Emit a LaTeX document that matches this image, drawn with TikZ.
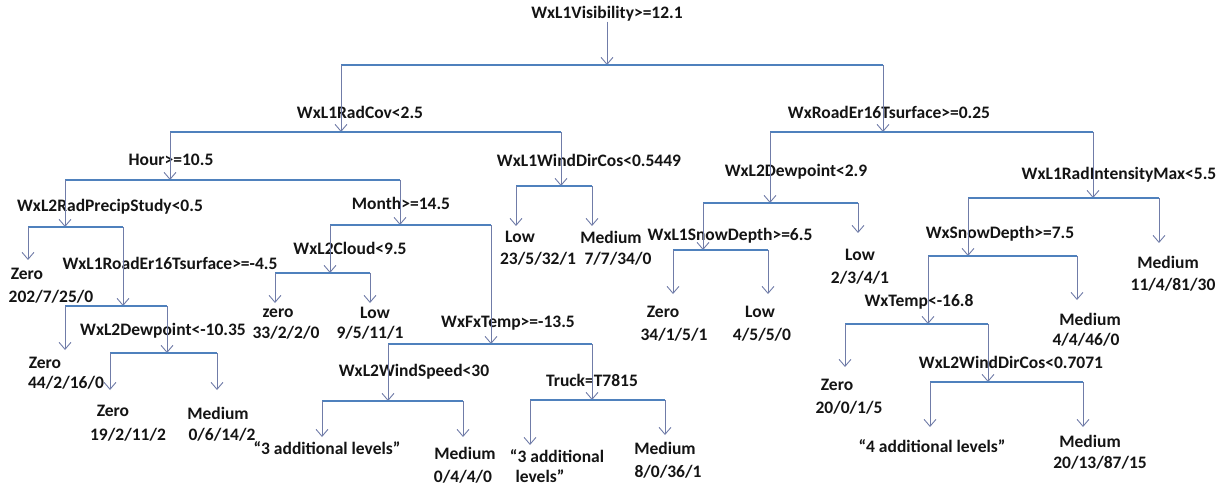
\documentclass[tikz,border=0pt]{standalone}
\usepackage{fontspec}
\setmainfont{Carlito}
\usetikzlibrary{arrows.meta}
\definecolor{barblue}{RGB}{79,129,189}
\definecolor{arrgray}{RGB}{112,124,168}
\definecolor{txt}{RGB}{20,20,20}
\begin{document}
\begin{tikzpicture}[x=1pt,y=-1pt,
  lbl/.style={font=\fontsize{17.5}{20}\selectfont\bfseries, inner sep=0pt, text=txt},
  bar/.style={draw=barblue, line width=1.1pt},
  arr/.style={draw=arrgray, line width=0.9pt, -{Straight Barb[length=7pt,width=12pt]}}]
\useasboundingbox[fill=white] (0,0) rectangle (1231,486);

% ---------- internal node labels ----------
\node[lbl] (r) at (607,14) {WxL1Visibility>=12.1};
\node[lbl] (a) at (360,112) {WxL1RadCov<2.5};
\node[lbl] (b) at (889,112) {WxRoadEr16Tsurface>=0.25};
\node[lbl] (c) at (171,160) {Hour>=10.5};
\node[lbl] (d) at (589,160) {WxL1WindDirCos<0.5449};
\node[lbl] (e) at (796,172) {WxL2Dewpoint<2.9};
\node[lbl] (f) at (1119,175) {WxL1RadIntensityMax<5.5};
\node[lbl] (g) at (110,207) {WxL2RadPrecipStudy<0.5};
\node[lbl] (h) at (401,203) {Month>=14.5};
\node[lbl] (i) at (730,236) {WxL1SnowDepth>=6.5};
\node[lbl] (j) at (1000,234) {WxSnowDepth>=7.5};
\node[lbl] (k) at (170,263) {WxL1RoadEr16Tsurface>=-4.5};
\node[lbl] (l) at (350,248) {WxL2Cloud<9.5};
\node[lbl] (m) at (919,302) {WxTemp<-16.8};
\node[lbl] (n) at (508,323) {WxFxTemp>=-13.5};
\node[lbl] (o) at (163,331) {WxL2Dewpoint<-10.35};
\node[lbl] (p) at (1011,362) {WxL2WindDirCos<0.7071};
\node[lbl] (q) at (414,372) {WxL2WindSpeed<30};
\node[lbl] (s) at (592,380) {Truck=T7815};

% ---------- junctions (where incoming arrow meets the bar) ----------
\coordinate (rj) at (607,65);
\coordinate (aj) at (341,132);
\coordinate (bj) at (883,132);
\coordinate (cj) at (170,180);
\coordinate (dj) at (561,186);
\coordinate (ej) at (770,203);
\coordinate (fj) at (1093,198);
\coordinate (gj) at (65,227);
\coordinate (hj) at (400,225);
\coordinate (ij) at (703,250);
\coordinate (jj) at (968,256);
\coordinate (kj) at (123,306);
\coordinate (lj) at (330,273);
\coordinate (mj) at (928,324);
\coordinate (nj) at (491,344);
\coordinate (oj) at (167,353);
\coordinate (pj) at (988,382);
\coordinate (qj) at (388,401);
\coordinate (sj) at (592,400);

% ---------- leaf arrow tips ----------
\coordinate (dL) at (516,226);
\coordinate (dR) at (592,226);
\coordinate (eR) at (858,233);
\coordinate (fR) at (1159,243);
\coordinate (gL) at (28,260);
\coordinate (iL) at (673,294);
\coordinate (iR) at (768,294);
\coordinate (jR) at (1077,300);
\coordinate (kL) at (65,350);
\coordinate (lL) at (275,303);
\coordinate (lR) at (370,303);
\coordinate (mL) at (845,367);
\coordinate (oL) at (110,390);
\coordinate (oR) at (217,390);
\coordinate (pL) at (930,427);
\coordinate (pR) at (1083,427);
\coordinate (qL) at (322,437);
\coordinate (qR) at (463,437);
\coordinate (sL) at (530,445);
\coordinate (sR) at (665,435);

% ---------- leaf labels ----------
\node[lbl] (dLa) at (520,237) {Low};
\node[lbl] (dLb) at (538,259) {23/5/32/1};
\node[lbl] (dRa) at (611,237) {Medium};
\node[lbl] (dRb) at (618,259) {7/7/34/0};
\node[lbl] (eRa) at (860,255) {Low};
\node[lbl] (eRb) at (860,278) {2/3/4/1};
\node[lbl] (fRa) at (1168,262) {Medium};
\node[lbl] (fRb) at (1173,285) {11/4/81/30};
\node[lbl] (gLa) at (27,274) {Zero};
\node[lbl] (gLb) at (51,297) {202/7/25/0};
\node[lbl] (iLa) at (663,312) {Zero};
\node[lbl] (iLb) at (674,335) {34/1/5/1};
\node[lbl] (iRa) at (760,312) {Low};
\node[lbl] (iRb) at (762,335) {4/5/5/0};
\node[lbl] (jRa) at (1090,319) {Medium};
\node[lbl] (jRb) at (1086,340) {4/4/46/0};
\node[lbl] (kLa) at (45,363) {Zero};
\node[lbl] (kLb) at (66,383) {44/2/16/0};
\node[lbl] (lLa) at (278,313) {zero};
\node[lbl] (lLb) at (286,333) {33/2/2/0};
\node[lbl] (lRa) at (375,313) {Low};
\node[lbl] (lRb) at (370,333) {9/5/11/1};
\node[lbl] (mLa) at (837,385) {Zero};
\node[lbl] (mLb) at (849,408) {20/0/1/5};
\node[lbl] (oLa) at (113,411) {Zero};
\node[lbl] (oLb) at (128,435) {19/2/11/2};
\node[lbl] (oRa) at (218,413) {Medium};
\node[lbl] (oRb) at (222,435) {0/6/14/2};
\node[lbl] (pLa) at (932,446) {“4 additional levels”};
\node[lbl] (pRa) at (1090,441) {Medium};
\node[lbl] (pRb) at (1100,463) {20/13/87/15};
\node[lbl] (qLa) at (327,448) {“3 additional levels”};
\node[lbl] (qRa) at (465,453) {Medium};
\node[lbl] (qRb) at (463,477) {0/4/4/0};
\node[lbl] (sLa) at (557,456) {“3 additional};
\node[lbl] (sLb) at (540,476) {levels”};
\node[lbl] (sRa) at (665,448) {Medium};
\node[lbl] (sRb) at (668,472) {8/0/36/1};

% ---------- root arrow ----------
\draw[arr] (r.south) -- (rj);

% ---------- bars and arrows: parent bar -> children ----------
\foreach \P/\A/\B in {rj/aj/bj, aj/cj/dj, bj/ej/fj, cj/gj/hj, dj/dL/dR,
  ej/ij/eR, fj/jj/fR, gj/gL/kj, hj/lj/nj, ij/iL/iR, jj/mj/jR, kj/kL/oj,
  lj/lL/lR, mj/mL/pj, nj/qj/sj, oj/oL/oR, pj/pL/pR, qj/qL/qR, sj/sL/sR}{
  \draw[bar] (\A |- \P) -- (\B |- \P);
  \draw[arr] (\A |- \P) -- (\A);
  \draw[arr] (\B |- \P) -- (\B);
}
\end{tikzpicture}
\end{document}
